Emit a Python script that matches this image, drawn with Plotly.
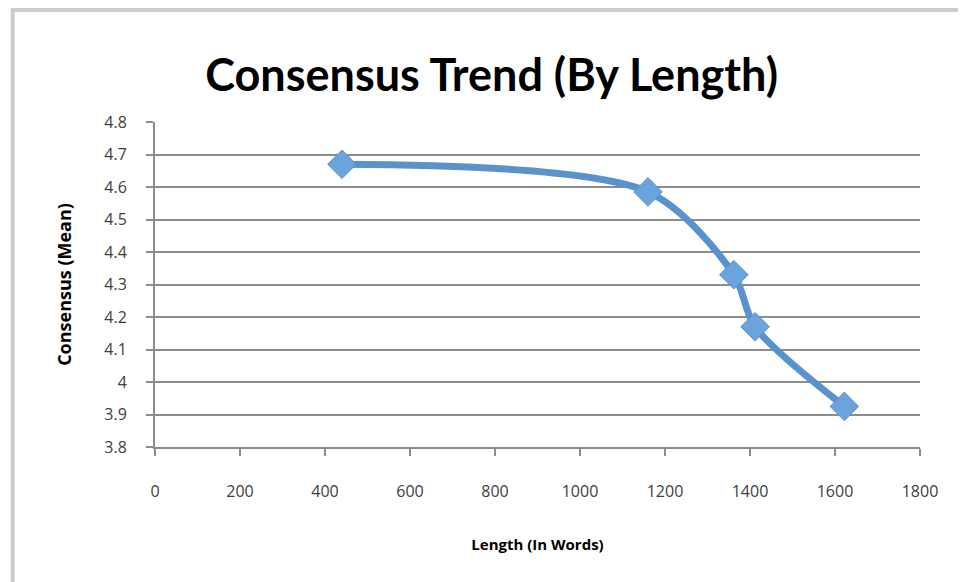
import plotly.graph_objects as go

lengths = [440, 1160, 1362, 1412, 1622]
consensus = [4.67, 4.585, 4.33, 4.17, 3.925]

x_ticks = [0, 200, 400, 600, 800, 1000, 1200, 1400, 1600, 1800]
y_ticks = [3.8, 3.9, 4.0, 4.1, 4.2, 4.3, 4.4, 4.5, 4.6, 4.7, 4.8]
y_tick_labels = ["3.8", "3.9", "4", "4.1", "4.2", "4.3", "4.4", "4.5", "4.6", "4.7", "4.8"]

title_text = "Consensus Trend (By Length)"
x_title = "Length (In Words)"
y_title = "Consensus (Mean)"

fig = go.Figure()
fig.add_trace(go.Scatter(
    x=lengths, y=consensus, mode="lines+markers",
    line=dict(color="#5A92CC", width=7, shape="spline", smoothing=0.85),
    marker=dict(symbol="diamond", size=22, color="#6CA3DD",
                line=dict(color="#5A92CC", width=1)),
    showlegend=False, hoverinfo="x+y",
))

grid = "#8C8C8C"
fig.update_layout(
    width=966, height=582,
    margin=dict(l=147, r=54, t=114, b=143),
    paper_bgcolor="white", plot_bgcolor="white",
    title=dict(text=title_text, x=0.44, xref="paper", xanchor="center",
               y=0.885, yref="container", yanchor="middle",
               font=dict(family="Lato", size=45, color="black", weight="bold")),
    font=dict(family="Open Sans", color="#404040"),
    shapes=[dict(type="rect", xref="paper", yref="paper",
                 x0=-0.186, x1=1.2, y0=-0.6, y1=1.345,
                 line=dict(color="#CCCCCC", width=4), fillcolor="rgba(0,0,0,0)",
                 layer="below")],
)
fig.update_xaxes(
    range=[0, 1800], tickvals=x_ticks, showgrid=False, zeroline=False,
    showline=True, linecolor=grid, linewidth=2,
    ticks="outside", ticklen=7, tickcolor=grid, tickwidth=2,
    tickfont=dict(size=16, color="#404040"), ticklabelstandoff=22,
    title=dict(text=x_title, standoff=38,
               font=dict(size=15, color="black", weight="bold")),
)
fig.update_yaxes(
    range=[3.8, 4.8], tickvals=y_ticks, ticktext=y_tick_labels,
    showgrid=True, gridcolor=grid, gridwidth=2, zeroline=False,
    showline=True, linecolor=grid, linewidth=2,
    ticks="outside", ticklen=7, tickcolor=grid, tickwidth=2,
    tickfont=dict(size=16, color="#404040"), ticklabelstandoff=16,
    title=dict(text=y_title, standoff=28,
               font=dict(size=18, color="black", weight="bold")),
)
fig.write_html("out.html")
